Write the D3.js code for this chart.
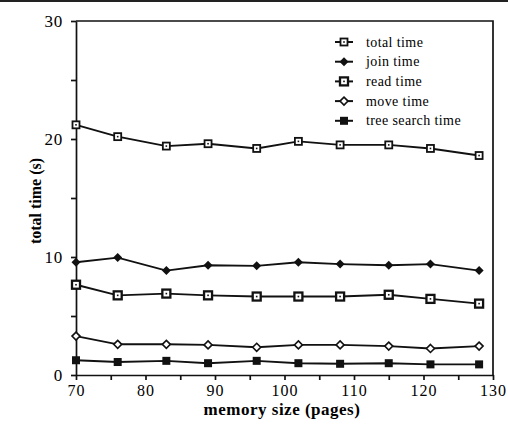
<!DOCTYPE html>
<html lang="en">
<head>
    <script src="https://d3js.org/d3.v7.min.js"></script>
    <meta charset="UTF-8">
    <title>total time vs memory size</title>
</head>
<style>
    body{
        margin: 0;
        background: #fff;
    }
    text{
        font-family: 'Liberation Serif', 'Times New Roman', serif;
        fill: #000;
    }
    .axis path, .axis line{
        stroke: #111;
        stroke-width: 1.7;
    }
</style>
<body>
    <div id='grafico'></div>
</body>
<script>
    // memory size (pages)
    var paginas = [70, 76, 83, 89, 96, 102, 108, 115, 121, 128]

    var totalTime  = [21.2, 20.2, 19.4, 19.6, 19.2, 19.8, 19.5, 19.5, 19.2, 18.6]
    var joinTime   = [9.55, 9.95, 8.85, 9.3, 9.25, 9.55, 9.4, 9.3, 9.4, 8.85]
    var readTime   = [7.65, 6.75, 6.9, 6.75, 6.65, 6.65, 6.65, 6.8, 6.45, 6.05]
    var moveTime   = [3.3, 2.6, 2.6, 2.55, 2.35, 2.55, 2.55, 2.45, 2.25, 2.45]
    var treeTime   = [1.25, 1.1, 1.2, 1.0, 1.2, 1.0, 0.95, 1.0, 0.9, 0.9]

    var nomes = ['total time', 'join time', 'read time', 'move time', 'tree search time']
    var xTicks = [70, 80, 90, 100, 110, 120, 130]
    var yTicks = [0, 10, 20, 30]

    var series = [
        {nome: nomes[0], valores: totalTime, marca: 'quadAberto'},
        {nome: nomes[1], valores: joinTime, marca: 'losangoCheio'},
        {nome: nomes[2], valores: readTime, marca: 'quadGrosso'},
        {nome: nomes[3], valores: moveTime, marca: 'losangoAberto'},
        {nome: nomes[4], valores: treeTime, marca: 'quadCheio'}
    ]

    var svg = d3.select('#grafico')
    .append('svg')
    .attr('width', 508)
    .attr('height', 435)

    var xScale = d3.scaleLinear()
    .domain([70, 130])
    .range([76, 493])

    var yScale = d3.scaleLinear()
    .domain([0, 30])
    .range([375, 21])

    // linha da borda da pagina escaneada
    svg.append('line')
    .attr('x1', 0).attr('x2', 508)
    .attr('y1', 1).attr('y2', 1)
    .attr('stroke', '#222')
    .attr('stroke-width', 2)

    // moldura superior e direita
    svg.append('path')
    .attr('d', 'M' + xScale(70) + ',' + yScale(30) + 'H' + xScale(130) + 'V' + yScale(0))
    .attr('fill', 'none')
    .attr('stroke', '#111')
    .attr('stroke-width', 1.7)

    var xAxis = d3.axisBottom(xScale)
    .tickValues(d3.range(70, 131, 5))
    .tickSize(5)
    .tickSizeOuter(0)
    .tickFormat((d) => xTicks.indexOf(d) >= 0 ? d : '')

    var yAxis = d3.axisLeft(yScale)
    .tickValues(d3.range(0, 31, 5))
    .tickSize(5)
    .tickSizeOuter(0)
    .tickFormat((d) => yTicks.indexOf(d) >= 0 ? d : '')

    svg.append('g')
    .attr('class', 'axis')
    .attr('font-family', "'Liberation Serif', serif")
    .attr('transform', 'translate(0,' + yScale(0) + ')')
    .call(xAxis)
    .call((g) => g.selectAll('text').attr('font-size', 16).attr('dy', null).attr('y', 21)
        .style('letter-spacing', '1px'))

    svg.append('g')
    .attr('class', 'axis')
    .attr('font-family', "'Liberation Serif', serif")
    .attr('transform', 'translate(' + xScale(70) + ',0)')
    .call(yAxis)
    .call((g) => g.selectAll('text').attr('font-size', 17).attr('x', -13)
        .style('letter-spacing', '0.8px'))

    svg.selectAll('.axis text').attr('fill', '#000')

    svg.append('text')
    .attr('x', 282)
    .attr('y', 415)
    .attr('text-anchor', 'middle')
    .attr('font-size', 17)
    .attr('font-weight', 'bold')
    .style('letter-spacing', '0.5px')
    .text('memory size (pages)')

    svg.append('text')
    .attr('transform', 'translate(41,201) rotate(-90)')
    .attr('text-anchor', 'middle')
    .attr('font-size', 16)
    .attr('font-weight', 'bold')
    .text('total time (s)')

    function desenhaMarca(g, tipo, x, y) {
        if (tipo === 'quadAberto') {
            g.append('rect').attr('x', x - 3.5).attr('y', y - 3.5).attr('width', 7).attr('height', 7)
            .attr('fill', '#fff').attr('stroke', '#111').attr('stroke-width', 1.8)
            g.append('rect').attr('x', x - 0.8).attr('y', y - 0.8).attr('width', 1.6).attr('height', 1.6).attr('fill', '#111')
        } else if (tipo === 'quadGrosso') {
            g.append('rect').attr('x', x - 4).attr('y', y - 4).attr('width', 8).attr('height', 8)
            .attr('fill', '#fff').attr('stroke', '#111').attr('stroke-width', 2.3)
            g.append('rect').attr('x', x - 0.8).attr('y', y - 0.8).attr('width', 1.6).attr('height', 1.6).attr('fill', '#111')
        } else if (tipo === 'quadCheio') {
            g.append('rect').attr('x', x - 4).attr('y', y - 4).attr('width', 8).attr('height', 8)
            .attr('fill', '#111')
        } else if (tipo === 'losangoCheio') {
            g.append('path').attr('d', 'M' + x + ',' + (y - 4.5) + 'L' + (x + 4.5) + ',' + y + 'L' + x + ',' + (y + 4.5) + 'L' + (x - 4.5) + ',' + y + 'Z')
            .attr('fill', '#111')
        } else {
            g.append('path').attr('d', 'M' + x + ',' + (y - 4) + 'L' + (x + 4) + ',' + y + 'L' + x + ',' + (y + 4) + 'L' + (x - 4) + ',' + y + 'Z')
            .attr('fill', '#fff').attr('stroke', '#111').attr('stroke-width', 1.6)
        }
    }

    var linha = d3.line()
    .x((d, i) => xScale(paginas[i]))
    .y((d) => yScale(d))

    series.forEach((s) => {
        var g = svg.append('g')
        g.append('path')
        .attr('d', linha(s.valores))
        .attr('fill', 'none')
        .attr('stroke', '#111')
        .attr('stroke-width', 1.9)
        s.valores.forEach((v, i) => desenhaMarca(g, s.marca, xScale(paginas[i]), yScale(v)))
    })

    // legenda
    var legenda = svg.append('g')
    series.forEach((s, i) => {
        var y = 42 + i * 19.7
        legenda.append('line')
        .attr('x1', 335).attr('x2', 353)
        .attr('y1', y).attr('y2', y)
        .attr('stroke', '#111').attr('stroke-width', 2)
        desenhaMarca(legenda, s.marca, 344, y)
        legenda.append('text')
        .attr('x', 366)
        .attr('y', y + 4.5)
        .attr('font-size', 14)
        .style('letter-spacing', '0.4px')
        .text(s.nome)
    })
</script>
</html>
